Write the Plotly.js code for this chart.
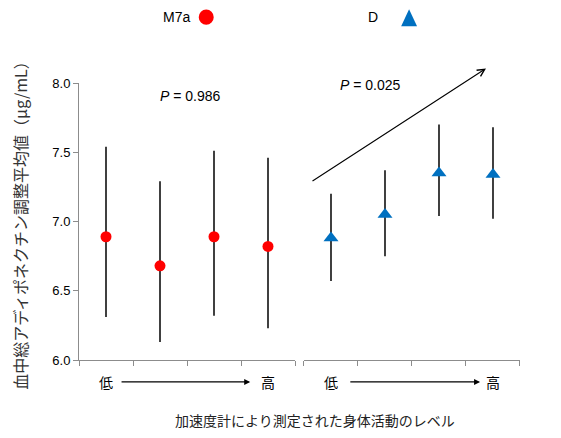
<!DOCTYPE html>
<html>
<head>
<meta charset="utf-8">
<script src="https://cdn.plot.ly/plotly-3.0.1.min.js"></script>
<style>
  body { margin: 0; background: #fff; }
  #plot { width: 561px; height: 438px; }
</style>
</head>
<body>
<div id="plot"></div>
<script>
// activity level, low -> high
var levels = [1, 2, 3, 4];

// M7a group (red circles)
var m7aMean  = [6.89, 6.68, 6.89, 6.82];
var m7aUpper = [7.54, 7.29, 7.51, 7.46];
var m7aLower = [6.31, 6.13, 6.32, 6.23];

// D group (blue triangles)
var dMean  = [6.88, 7.05, 7.35, 7.34];
var dUpper = [7.20, 7.37, 7.70, 7.68];
var dLower = [6.57, 6.75, 7.04, 7.02];

var yTicks = [6.0, 6.5, 7.0, 7.5, 8.0];
var pValues = ['0.986', '0.025'];
var legendNames = ['M7a', 'D'];

var jpFont = '"Noto Sans CJK JP", "Liberation Sans", sans-serif';
var numFont = '"Liberation Sans", Arial, sans-serif';

function errUp(mean, upper) { return upper.map(function (u, i) { return u - mean[i]; }); }
function errDown(mean, lower) { return lower.map(function (l, i) { return mean[i] - l; }); }

var traces = [
  {
    x: levels, y: m7aMean, xaxis: 'x', yaxis: 'y',
    type: 'scatter', mode: 'markers', name: legendNames[0],
    marker: { symbol: 'circle', size: 11, color: '#ff0000' },
    error_y: { type: 'data', symmetric: false,
               array: errUp(m7aMean, m7aUpper), arrayminus: errDown(m7aMean, m7aLower),
               width: 0, thickness: 1.5, color: '#000' }
  },
  {
    x: levels, y: dMean, xaxis: 'x2', yaxis: 'y',
    type: 'scatter', mode: 'markers', name: legendNames[1],
    marker: { symbol: 'triangle-up', size: 13, color: '#0070c0' },
    error_y: { type: 'data', symmetric: false,
               array: errUp(dMean, dUpper), arrayminus: errDown(dMean, dLower),
               width: 0, thickness: 1.5, color: '#000' }
  }
];

var xCommon = {
  range: [0.5, 4.5], showline: true, linecolor: '#8c8c8c', linewidth: 1,
  ticks: 'outside', ticklen: 5, tickcolor: '#8c8c8c',
  tickvals: [0.5, 1.5, 2.5, 3.5, 4.5], showticklabels: false,
  showgrid: false, zeroline: false, fixedrange: true, anchor: 'y'
};

function label(xref, yref, x, y, text, font) {
  return { xref: xref, yref: yref, x: x, y: y, text: text, showarrow: false,
           xanchor: 'center', yanchor: 'middle', font: font };
}
var jp14 = { family: jpFont, size: 14, color: '#000' };
var num14 = { family: numFont, size: 14, color: '#000' };

var annotations = [
  label('x', 'y', 2.57, 7.905, '<i>P</i> = ' + pValues[0], num14),
  label('x2', 'y', 1.74, 7.985, '<i>P</i> = ' + pValues[1], num14),
  // trend arrow for D
  { xref: 'x2', yref: 'y', axref: 'x2', ayref: 'y', x: 3.87, y: 8.105, ax: 0.63, ay: 7.285,
    text: '', showarrow: true, arrowhead: 5, arrowsize: 1.3, arrowwidth: 1.1, arrowcolor: '#000' },
  // low -> high labels under each panel
  label('x', 'paper', 1, -0.078, '低', jp14),
  label('x', 'paper', 4, -0.078, '高', jp14),
  { xref: 'x', yref: 'paper', axref: 'x', ayref: 'pixel', x: 3.67, y: -0.079, ax: 1.26, ay: 0,
    text: '', showarrow: true, arrowhead: 2, arrowsize: 1, arrowwidth: 1.2, arrowcolor: '#000' },
  label('x2', 'paper', 1, -0.078, '低', jp14),
  label('x2', 'paper', 4, -0.078, '高', jp14),
  { xref: 'x2', yref: 'paper', axref: 'x2', ayref: 'pixel', x: 3.76, y: -0.079, ax: 1.33, ay: 0,
    text: '', showarrow: true, arrowhead: 2, arrowsize: 1, arrowwidth: 1.2, arrowcolor: '#000' },
  // x title
  label('paper', 'paper', 0.535, -0.217, '加速度計により測定された身体活動のレベル',
        { family: jpFont, size: 14, color: '#222' }),
  // legend labels
  label('paper', 'paper', 0.221, 1.238, legendNames[0], num14),
  label('paper', 'paper', 0.667, 1.238, legendNames[1], num14)
];

var shapes = [
  { type: 'circle', xref: 'paper', yref: 'paper', x0: 0.2715, x1: 0.3055, y0: 1.21, y1: 1.265,
    fillcolor: '#ff0000', line: { width: 0 } },
  { type: 'path', xref: 'paper', yref: 'paper',
    path: 'M 0.7305 1.205 L 0.7665 1.205 L 0.7485 1.266 Z',
    fillcolor: '#0070c0', line: { width: 0 } }
];

var layout = {
  width: 561, height: 438,
  margin: { l: 79, r: 41, t: 83, b: 78 },
  paper_bgcolor: '#fff', plot_bgcolor: '#fff',
  showlegend: false,
  font: { family: numFont, size: 14, color: '#000' },
  xaxis: Object.assign({}, xCommon, { domain: [0, 0.4898] }),
  xaxis2: Object.assign({}, xCommon, { domain: [0.5102, 1] }),
  yaxis: {
    range: [6, 8], tickvals: yTicks, tickformat: '.1f',
    showline: true, linecolor: '#8c8c8c', linewidth: 1,
    ticks: 'outside', ticklen: 5, tickcolor: '#8c8c8c',
    showgrid: false, zeroline: false, fixedrange: true,
    tickfont: { family: numFont, size: 13, color: '#000' },
    title: { text: '血中総アディポネクチン調整平均値（μg/mL）', standoff: 20,
             font: { family: jpFont, size: 16, color: '#333' } }
  },
  annotations: annotations,
  shapes: shapes
};

Plotly.newPlot('plot', traces, layout, { displayModeBar: false, staticPlot: true });
</script>
</body>
</html>
